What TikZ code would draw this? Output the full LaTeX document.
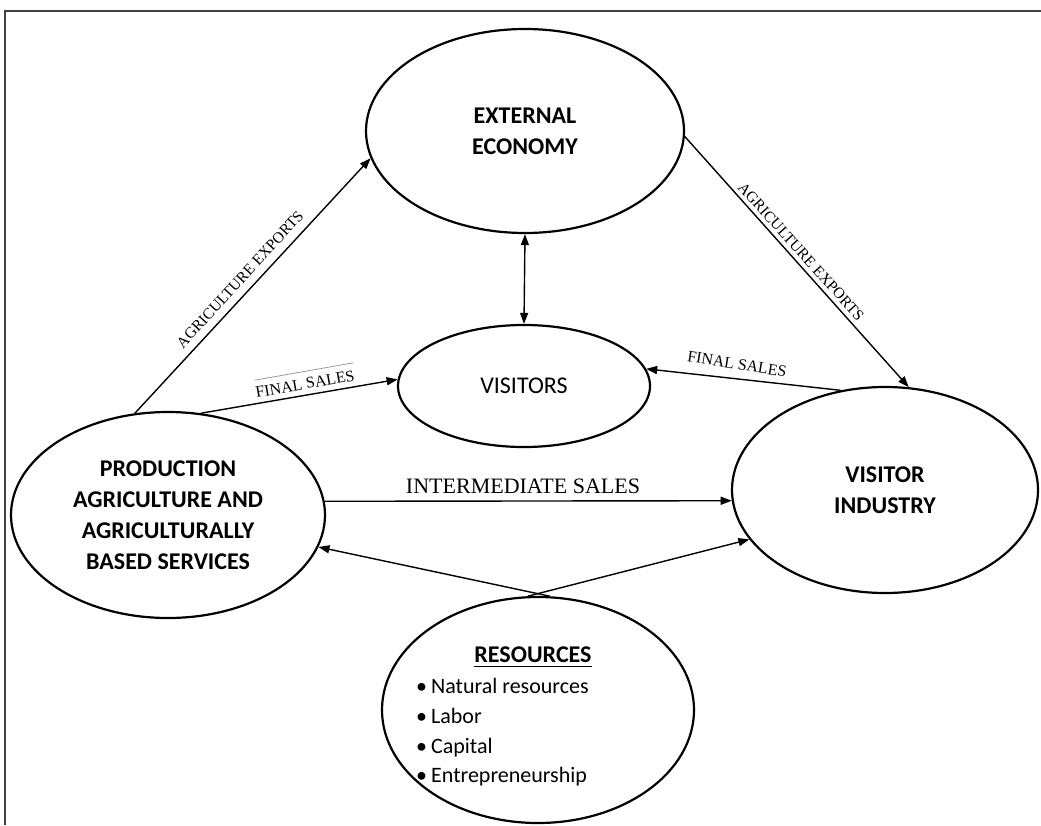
\documentclass[tikz,border=0pt]{standalone}
\usepackage{fontspec}
\setmainfont{Liberation Serif}
\newfontfamily\calfont{Carlito}
\usetikzlibrary{shapes.geometric,arrows.meta}
\begin{document}
\begin{tikzpicture}[x=1pt,y=-1pt,
  >={Triangle[length=11pt,width=8pt]},
  ell/.style={ellipse, draw, line width=2.2pt, inner sep=0pt, align=center,
    font=\calfont\bfseries\fontsize{24}{31}\selectfont},
  conn/.style={line width=1.4pt, ->},
  lab/.style={inner sep=0pt, font=\fontsize{16}{16}\selectfont},
  reslab/.style={inner sep=0pt, anchor=base west, font=\calfont\fontsize{22}{30}\selectfont}]
\useasboundingbox (0,0) rectangle (1041,825);
% frame
\draw[line width=1.5pt, black!75] (5,825) -- (5,11) -- (1041,11);
% ellipses
\node[ell, minimum width=318pt, minimum height=204pt] (ext) at (525,131) {EXTERNAL\\ECONOMY};
\node[ell, minimum width=252pt, minimum height=122pt, font=\calfont\fontsize{24}{31}\selectfont] (vis) at (524,386) {VISITORS};
\node[ell, minimum width=314pt, minimum height=206pt] (prod) at (168,515) {PRODUCTION\\AGRICULTURE AND\\AGRICULTURALLY\\BASED SERVICES};
\node[ell, minimum width=306pt, minimum height=206pt] (vi) at (885,490) {VISITOR\\INDUSTRY};
\node[ell, minimum width=312pt, minimum height=226pt] (res) at (538,710) {};
% resources text
\node[inner sep=0pt, anchor=base, font=\calfont\bfseries\fontsize{24}{30}\selectfont] (rt) at (533,662) {RESOURCES};
\draw[line width=1.6pt] ([yshift=-4.5pt]rt.base west) -- ([yshift=-4.5pt]rt.base east);
\node[reslab] (r1) at (416,693) {\textbullet\hspace{4pt}Natural resources};
\node[reslab] (r2) at (416,723) {\textbullet\hspace{4pt}Labor};
\node[reslab] (r3) at (416,753) {\textbullet\hspace{4pt}Capital};
\node[reslab] (r4) at (416,782) {\textbullet\hspace{4pt}Entrepreneurship};
% connectors
\draw[conn] (prod.108.9) -- (ext.190);
\draw[conn] (ext.-2.5) -- (vi.77.8);
\draw[conn] (prod.72.6) -- (vis.177.3);
\draw[conn] (vi.114.7) -- (vis.8.3);
\draw[conn] (prod.5.14) -- (vi.184.1);
\draw[line width=1.4pt, <->] (ext.270) -- (vis.90);
\draw[conn] (res.84.9) -- (prod.-12.4);
\draw[conn] (res.95.1) -- (vi.200.05);
% labels
\node[lab, rotate=47.5, font=\fontsize{15.5}{15.5}\selectfont] (ael) at (240,279.5) {AGRICULTURE EXPORTS};
\node[lab, rotate=-48, font=\fontsize{15.5}{15.5}\selectfont] (aer) at (801,251.5) {AGRICULTURE EXPORTS};
\node[lab, rotate=10] (fsl) at (305,384) {FINAL SALES};
\draw[black!40, line width=0.8pt] ([yshift=7pt]fsl.north west) -- ([yshift=7pt]fsl.north east);
\node[lab, rotate=-9] (fsr) at (737,364) {FINAL SALES};
\node[lab, font=\fontsize{22}{22}\selectfont] (ims) at (523,486) {INTERMEDIATE SALES};
\end{tikzpicture}
\end{document}
